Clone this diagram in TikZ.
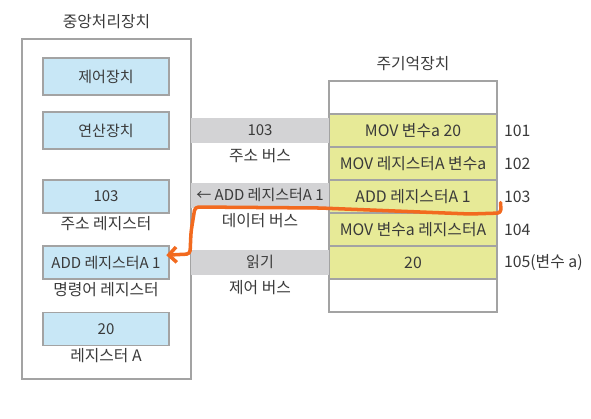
\documentclass[tikz,border=0pt]{standalone}
\usepackage{fontspec}
\setmainfont{Noto Sans CJK KR}
\usetikzlibrary{arrows.meta, positioning}
\definecolor{cblue}{HTML}{C8E7F6}
\definecolor{cyellow}{HTML}{E7EA97}
\definecolor{cedge}{HTML}{A3A3A3}
\definecolor{cbus}{HTML}{D3D3D5}
\definecolor{ctext}{HTML}{3A3A3A}
\definecolor{corange}{HTML}{F26A1F}
\tikzset{
  every picture/.style={font=\fontsize{13.5}{16}\selectfont, line width=1pt},
  reg/.style={draw=cedge, fill=cblue, text=ctext, font=\fontsize{12.8}{15}\selectfont, minimum width=3.78cm, minimum height=#1, inner sep=0pt},
  reg/.default=0.99cm,
  cell/.style={draw=cedge, fill=#1, text=ctext, minimum width=5.04cm, minimum height=0.99cm, inner sep=0pt},
  cell/.default=cyellow,
  bus/.style={fill=cbus, text=ctext, font=\fontsize{12.8}{15}\selectfont, minimum width=4.14cm, minimum height=0.75cm, inner sep=0pt},
  note/.style={text=ctext, inner sep=1pt},
  pen/.style={draw=corange, line width=3pt, line cap=round, line join=round, rounded corners=3pt, -{Straight Barb[length=2.3mm, width=4.6mm]}},
}

\begin{document}
\begin{tikzpicture}[x=0.03cm, y=-0.03cm]
  \useasboundingbox (0,0) rectangle (591,418);
  % CPU side
  \node[draw=cedge, minimum width=5.07cm, minimum height=10.2cm] (cpu) at (106.5,209) {};
  \node[note, above=7pt of cpu] (cputitle) {중앙처리장치};
  \node[reg=1.11cm] (cu) at (106,76.5) {제어장치};
  \node[reg=1.11cm] (alu) at (106,130.5) {연산장치};
  \node[reg] (mar) at (106,196.5) {103};
  \node[note, below=0.5pt of mar] (marlabel) {주소 레지스터};
  \node[reg] (ir) at (106,262.5) {ADD 레지스터A 1};
  \node[note, below=0.5pt of ir] (irlabel) {명령어 레지스터};
  \node[reg] (ra) at (106,329) {20};
  \node[note, below=0.5pt of ra] (ralabel) {레지스터 A};
  % memory side
  \node[cell=white] (m0) at (413,97.5) {};
  \node[note, above=7pt of m0] (memtitle) {주기억장치};
  \foreach \i/\txt/\adr in {1/{MOV 변수a 20}/101, 2/{MOV 레지스터A 변수a}/102,
      3/{ADD 레지스터A 1}/103, 4/{MOV 변수a 레지스터A}/104, 5/20/{105(변수 a)}} {
    \node[cell] (m\i) at (413,{97.5+33*\i}) {\txt};
    \node[note, right=4pt of m\i] (adr\i) {\adr};
  }
  \node[cell=white] (m6) at (413,295.5) {};
  % buses
  \node[bus] (abus) at (260,130.5) {103};
  \node[note, below=3pt of abus] (abuslabel) {주소 버스};
  \node[bus] (dbus) at (260,195) {← ADD 레지스터A 1};
  \node[note, below=3pt of dbus] (dbuslabel) {데이터 버스};
  \node[bus] (ctlbus) at (260,262) {읽기};
  \node[note, below=3pt of ctlbus] (ctlbuslabel) {제어 버스};
  % orange stroke
  \coordinate (penstart) at ([xshift=0.09cm, yshift=0.33cm]m3.south east);
  \draw[pen] (penstart) -- (501,213) -- (470,214) -- (320,208) -- (195,207)
    -- (191,232) -- (190,254) -- ([xshift=-0.1cm, yshift=0.22cm]ir.east);
\end{tikzpicture}
\end{document}
